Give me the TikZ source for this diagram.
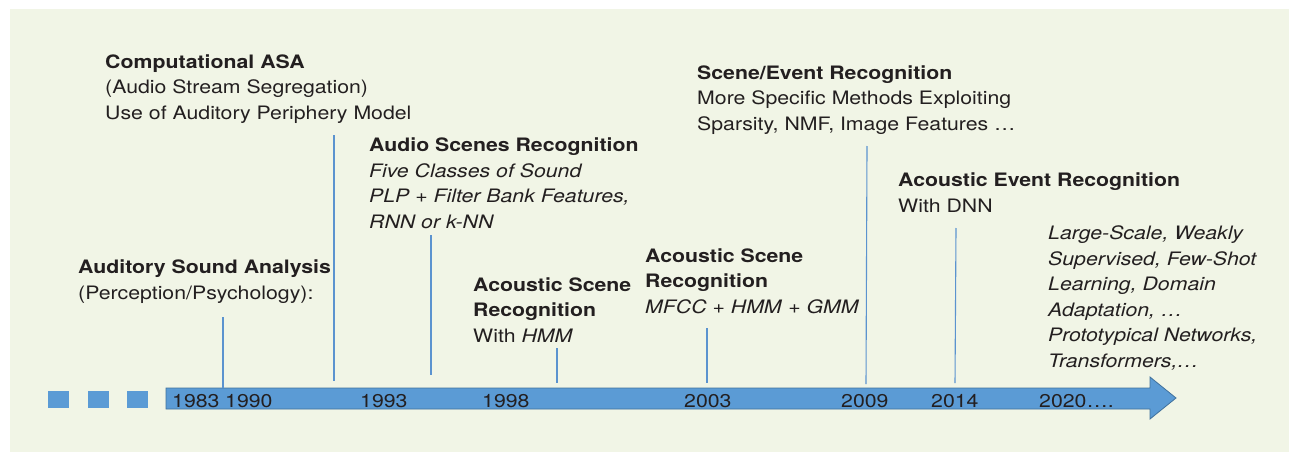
\documentclass[tikz,border=0pt]{standalone}
\usepackage{fontspec}
\setmainfont{TeX Gyre Heros}[FakeStretch=1.15]
\definecolor{bgc}{HTML}{F1F5E6}
\definecolor{barc}{HTML}{5B9BD5}
\definecolor{bard}{HTML}{41719C}
\definecolor{linec}{HTML}{5B93CF}
\definecolor{txt}{HTML}{231F20}
\tikzset{
  lbl/.style={anchor=base west, inner sep=0pt, align=left, text=txt,
    font=\fontsize{18.5}{25.5}\selectfont},
  yr/.style={anchor=base west, inner sep=0pt, text=txt, font=\fontsize{18.5}{22}\selectfont},
  tick/.style={draw=linec, line width=1.1pt},
  sq/.style={fill=barc, draw=none},
}
\begin{document}
\begin{tikzpicture}[x=1pt,y=-1pt]
\useasboundingbox (0,0) rectangle (1289,452);
\fill[white] (0,0) rectangle (1289,452);
\fill[bgc] (10,9) rectangle (1289,452);
% squares
\fill[sq] (48,391) rectangle (69,408);
\fill[sq] (88,391) rectangle (109,408);
\fill[sq] (127,391) rectangle (148,408);
% arrow
\filldraw[fill=barc, draw=bard, line width=0.8pt] (166,388) -- (1150,388) -- (1150,377) -- (1176,398) -- (1150,419) -- (1150,409) -- (166,409) -- cycle;
% years
\node[yr] (y83) at (172,407) {1983};
\node[yr] (y90) at (225,407) {1990};
\node[yr] (y93) at (360,407) {1993};
\node[yr] (y98) at (482,407) {1998};
\node[yr] (y03) at (684,407) {2003};
\node[yr] (y09) at (841,407) {2009};
\node[yr] (y14) at (931,407) {2014};
\node[yr] (y20) at (1039,407) {2020\ldots.};
% texts (anchor = baseline of the last line)
\node[lbl] (casa) at (105,119) {\textbf{Computational ASA}\\(Audio Stream Segregation)\\Use of Auditory Periphery Model};
\node[lbl] (asa) at (78,299) {\textbf{Auditory Sound Analysis}\\(Perception/Psychology):};
\node[lbl] (asr) at (369,228) {\textbf{Audio Scenes Recognition}\\\textit{Five Classes of Sound}\\\textit{PLP + Filter Bank Features,}\\\textit{RNN or k-NN}};
\node[lbl] (acs1) at (473,342) {\textbf{Acoustic Scene}\\\textbf{Recognition}\\With \textit{HMM}};
\node[lbl] (acs2) at (645,313) {\textbf{Acoustic Scene}\\\textbf{Recognition}\\\textit{MFCC} + \textit{HMM} + \textit{GMM}};
\node[lbl] (ser) at (697,130) {\textbf{Scene/Event Recognition}\\More Specific Methods Exploiting\\Sparsity, NMF, Image Features \ldots};
\node[lbl] (aer) at (898,212) {\textbf{Acoustic Event Recognition}\\With DNN};
\node[lbl] (mod) at (1048,367) {\textit{Large-Scale, Weakly}\\\textit{Supervised, Few-Shot}\\\textit{Learning, Domain}\\\textit{Adaptation, \ldots}\\\textit{Prototypical Networks,}\\\textit{Transformers,\ldots}};
% tick coordinates
\coordinate (t1a) at (223,317); \coordinate (t1b) at (223,388);
\coordinate (t2a) at (334,135); \coordinate (t2b) at (334,381);
\coordinate (t3a) at (431,235); \coordinate (t3b) at (431,375);
\coordinate (t4a) at (557,348); \coordinate (t4b) at (557,383);
\coordinate (t5a) at (707,328); \coordinate (t5b) at (707,383);
\coordinate (t6a) at (867,146); \coordinate (t6b) at (866,384);
\coordinate (t7a) at (956,228); \coordinate (t7b) at (955,383);
\draw[tick] (t1a) -- (t1b);
\draw[tick] (t2a) -- (t2b);
\draw[tick] (t3a) -- (t3b);
\draw[tick] (t4a) -- (t4b);
\draw[tick] (t5a) -- (t5b);
\draw[tick] (t6a) -- (t6b);
\draw[tick] (t7a) -- (t7b);
\end{tikzpicture}
\end{document}
